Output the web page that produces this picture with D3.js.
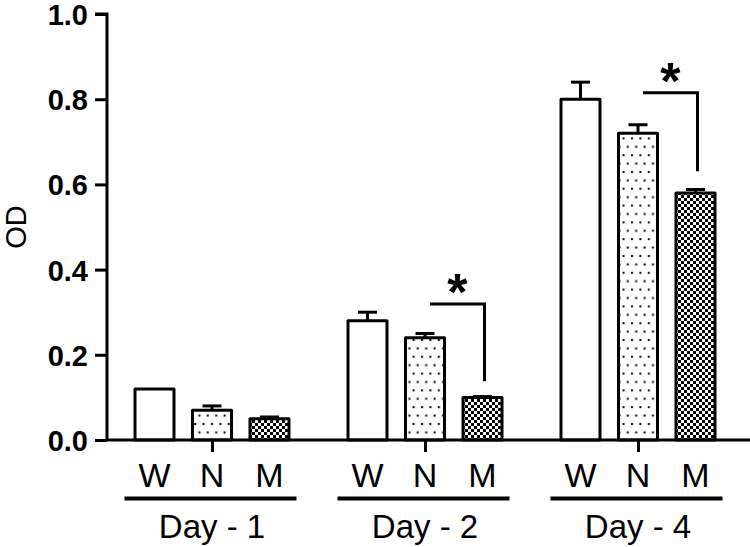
<!DOCTYPE html>
<html><head><meta charset="utf-8">
<script src="https://cdn.jsdelivr.net/npm/d3@7"></script>
<style>body{margin:0;background:#fff}svg{display:block}</style>
</head><body>
<svg id="c" width="750" height="547"></svg>
<script>
const days = ["Day - 1", "Day - 2", "Day - 4"];
const strains = ["W", "N", "M"];
const means = [[0.12, 0.07, 0.05], [0.28, 0.24, 0.10], [0.80, 0.72, 0.58]];
const errs  = [[0.0, 0.01, 0.004], [0.02, 0.01, 0.002], [0.04, 0.02, 0.008]];
const yTicks = [0, 0.2, 0.4, 0.6, 0.8, 1.0];
const sigPairs = [{day: 1, from: "N", to: "M", level: 0.319, drop: 0.138}, {day: 2, from: "N", to: "M", level: 0.815, drop: 0.631}];

const svg = d3.select("#c");
const y = d3.scaleLinear().domain([0, 1]).range([440, 14]);
const gx = d3.scalePoint().domain(days).range([212, 638]);
const ix = d3.scalePoint().domain(strains).range([-57.5, 57.5]);
const barW = 39;
const font = "Liberation Sans, Arial, sans-serif";

const defs = svg.append("defs");
const dots = defs.append("pattern").attr("id", "dots").attr("patternUnits", "userSpaceOnUse")
  .attr("width", 8.4).attr("height", 16.8);
dots.append("rect").attr("width", 8.4).attr("height", 16.8).attr("fill", "#fff");
dots.append("rect").attr("x", 1).attr("y", 3).attr("width", 2).attr("height", 2).attr("fill", "#000");
dots.append("rect").attr("x", 5.2).attr("y", 11.4).attr("width", 2).attr("height", 2).attr("fill", "#000");
const chk = defs.append("pattern").attr("id", "chk").attr("patternUnits", "userSpaceOnUse")
  .attr("width", 6).attr("height", 6);
chk.append("rect").attr("width", 6).attr("height", 6).attr("fill", "#fff");
chk.append("rect").attr("width", 3).attr("height", 3).attr("fill", "#000");
chk.append("rect").attr("x", 3).attr("y", 3).attr("width", 3).attr("height", 3).attr("fill", "#000");
const fills = {W: "#fff", N: "url(#dots)", M: "url(#chk)"};

const data = [];
days.forEach((d, i) => strains.forEach((s, j) => data.push({day: d, s, v: means[i][j], e: errs[i][j]})));

// error bars
const eg = svg.append("g").attr("stroke", "#000").attr("stroke-width", 3);
data.filter(d => d.e > 0).forEach(d => {
  const cx = gx(d.day) + ix(d.s);
  eg.append("line").attr("x1", cx).attr("x2", cx).attr("y1", y(d.v)).attr("y2", y(d.v + d.e));
  eg.append("line").attr("x1", cx - 9.5).attr("x2", cx + 9.5).attr("y1", y(d.v + d.e)).attr("y2", y(d.v + d.e));
});

// bars
svg.append("g").selectAll("rect").data(data).join("rect")
  .attr("x", d => gx(d.day) + ix(d.s) - barW / 2)
  .attr("y", d => y(d.v))
  .attr("width", barW)
  .attr("height", d => y(0) - y(d.v))
  .attr("fill", d => fills[d.s])
  .attr("stroke", "#000").attr("stroke-width", 3).attr("stroke-linejoin", "round");

// y axis
const ya = svg.append("g").attr("transform", "translate(107,0)")
  .call(d3.axisLeft(y).tickValues(yTicks).tickFormat(d3.format(".1f")).tickSize(12).tickPadding(7));
ya.select(".domain").attr("stroke-width", 3).attr("d", `M-12,${y(1)}H0V${y(0)}`);
ya.selectAll(".tick line").attr("stroke-width", 3);
ya.selectAll(".tick text").attr("font-family", font)
  .attr("font-size", 29).attr("font-weight", "bold").attr("fill", "#000").attr("dy", "0.36em");

// x axis
const xa = svg.append("g").attr("transform", "translate(0,440)")
  .call(d3.axisBottom(gx).tickSize(12).tickFormat(""));
xa.select(".domain").attr("stroke-width", 3).attr("d", "M107,0H750");
xa.selectAll(".tick line").attr("stroke-width", 3);

// strain labels, group underlines, day labels
days.forEach(d => {
  strains.forEach(s => {
    svg.append("text").attr("x", gx(d) + ix(s)).attr("y", 487).attr("text-anchor", "middle")
      .attr("font-family", font).attr("font-size", 34).text(s);
  });
  svg.append("line").attr("x1", gx(d) + ix("W") - 30).attr("x2", gx(d) + ix("M") + 27)
    .attr("y1", 498.5).attr("y2", 498.5).attr("stroke", "#000").attr("stroke-width", 4);
  svg.append("text").attr("x", gx(d)).attr("y", 538).attr("text-anchor", "middle")
    .attr("font-family", font).attr("font-size", 33).text(d);
});

// y label
svg.append("text").attr("transform", `translate(26,${y(0.5)}) rotate(-90)`).attr("text-anchor", "middle")
  .attr("font-family", font).attr("font-size", 29).text("OD");

// significance brackets
sigPairs.forEach(p => {
  const d = days[p.day];
  const x1 = gx(d) + ix(p.from) + 5, x2 = gx(d) + ix(p.to) + 2;
  svg.append("path").attr("d", `M${x1},${y(p.level)}H${x2}V${y(p.drop)}`)
    .attr("fill", "none").attr("stroke", "#000").attr("stroke-width", 3);
  svg.append("text").attr("x", (x1 + x2) / 2).attr("y", y(p.level) + 6).attr("text-anchor", "middle")
    .attr("font-family", font).attr("font-size", 52).attr("font-weight", "bold").text("*");
});
</script>
</body></html>
